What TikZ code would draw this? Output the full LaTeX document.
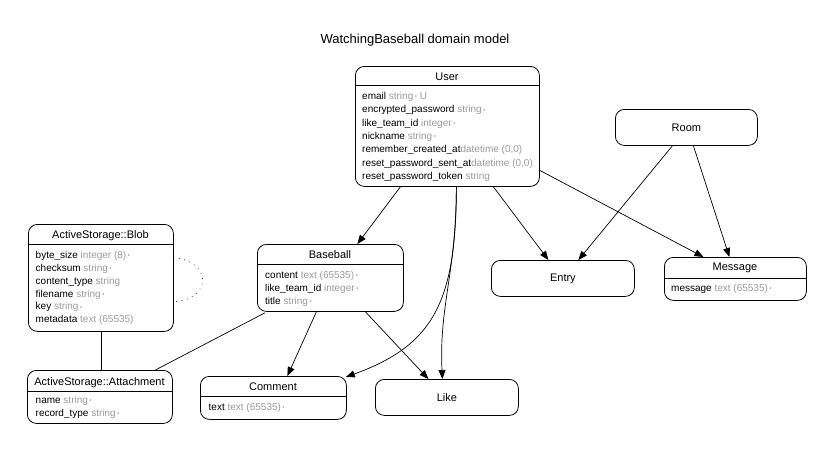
\documentclass[tikz,border=0pt]{standalone}
\usepackage{fontspec}
\setmainfont{Liberation Sans}
\usetikzlibrary{arrows.meta}
\definecolor{tygray}{HTML}{9A9A9A}
\newcommand\ty[1]{\textcolor{tygray}{#1}}
\newcommand\nnd{\,{\fontsize{6}{6}\selectfont\textcolor{tygray}{\raisebox{0.8pt}{•}}}}
\begin{document}
\begin{tikzpicture}[x=1pt,y=-1pt,
  ebox/.style={draw, rounded corners=9pt, line width=0.8pt, inner sep=0pt, anchor=north west, font=\fontsize{11}{13}\selectfont},
  hdr/.style={font=\fontsize{11}{13}\selectfont, inner sep=0pt, anchor=base},
  attr/.style={font=\fontsize{10}{12}\selectfont, anchor=base west, inner sep=0pt},
  sep/.style={line width=0.8pt},
  arr/.style={line width=0.7pt, -{Triangle[length=9pt,width=7pt]}},
  plain/.style={line width=0.7pt},
  loop/.style={line width=0.9pt, line cap=round, dash pattern=on 0pt off 5.5pt}]
\useasboundingbox (0,0) rectangle (837,455);

\node[font=\fontsize{13}{15}\selectfont, inner sep=0pt] (title) at (415,40) {WatchingBaseball domain model};

% User
\node[ebox, minimum width=184pt, minimum height=120pt] (user) at (355,66) {};
\draw[sep] ([yshift=-19pt]user.north west) -- ([yshift=-19pt]user.north east);
\node[hdr] (user-h) at (447,80) {User};
\node[attr] (user-a1) at (362,99.6) {email \ty{string\nnd{} U}};
\node[attr] (user-a2) at (362,112.9) {encrypted\_password \ty{string\nnd}};
\node[attr] (user-a3) at (362,126.3) {like\_team\_id \ty{integer\nnd}};
\node[attr] (user-a4) at (362,139.6) {nickname \ty{string\nnd}};
\node[attr] (user-a5) at (362,152.9) {remember\_created\_at\ty{datetime (0,0)}};
\node[attr] (user-a6) at (362,166.3) {reset\_password\_sent\_at\ty{datetime (0,0)}};
\node[attr] (user-a7) at (362,179.6) {reset\_password\_token \ty{string}};

% Room, Entry, Like
\node[ebox, minimum width=142pt, minimum height=36pt] (room) at (615,109) {};
\node[hdr, anchor=center] (room-h) at (room.center) {Room};
\node[ebox, minimum width=143pt, minimum height=36pt] (entry) at (491,260) {};
\node[hdr, anchor=center] (entry-h) at (entry.center) {Entry};
\node[ebox, minimum width=143pt, minimum height=36pt] (like) at (375,379) {};
\node[hdr, anchor=center] (like-h) at (like.center) {Like};

% Message
\node[ebox, minimum width=142pt, minimum height=43pt] (message) at (664,257) {};
\draw[sep] ([yshift=-21pt]message.north west) -- ([yshift=-21pt]message.north east);
\node[hdr] (message-h) at (735,270.7) {Message};
\node[attr] (message-a1) at (671,291.6) {message \ty{text (65535)\nnd}};

% Blob
\node[ebox, minimum width=145pt, minimum height=107pt] (blob) at (28,224) {};
\draw[sep] ([yshift=-20pt]blob.north west) -- ([yshift=-20pt]blob.north east);
\node[hdr] (blob-h) at (100.5,238) {ActiveStorage::Blob};
\node[attr] (blob-a1) at (35.5,258.6) {byte\_size \ty{integer (8)\nnd}};
\node[attr] (blob-a2) at (35.5,271.4) {checksum \ty{string\nnd}};
\node[attr] (blob-a3) at (35.5,284.2) {content\_type \ty{string}};
\node[attr] (blob-a4) at (35.5,297.0) {filename \ty{string\nnd}};
\node[attr] (blob-a5) at (35.5,309.8) {key \ty{string\nnd}};
\node[attr] (blob-a6) at (35.5,322.6) {metadata \ty{text (65535)}};

% Baseball
\node[ebox, minimum width=146pt, minimum height=67pt] (baseball) at (257,244) {};
\draw[sep] ([yshift=-20pt]baseball.north west) -- ([yshift=-20pt]baseball.north east);
\node[hdr] (baseball-h) at (330,258) {Baseball};
\node[attr] (baseball-a1) at (265,278.6) {content \ty{text (65535)\nnd}};
\node[attr] (baseball-a2) at (265,291.6) {like\_team\_id \ty{integer\nnd}};
\node[attr] (baseball-a3) at (265,304.6) {title \ty{string\nnd}};

% Attachment
\node[ebox, minimum width=145pt, minimum height=53pt] (attachment) at (27,370) {};
\draw[sep] ([yshift=-21pt]attachment.north west) -- ([yshift=-21pt]attachment.north east);
\node[hdr] (attachment-h) at (99.5,385) {ActiveStorage::Attachment};
\node[attr] (attachment-a1) at (35.5,403.6) {name \ty{string\nnd}};
\node[attr] (attachment-a2) at (35.5,416.3) {record\_type \ty{string\nnd}};

% Comment
\node[ebox, minimum width=146pt, minimum height=43pt] (comment) at (200,376) {};
\draw[sep] ([yshift=-20pt]comment.north west) -- ([yshift=-20pt]comment.north east);
\node[hdr] (comment-h) at (273,390) {Comment};
\node[attr] (comment-a1) at (208.5,410.6) {text \ty{text (65535)\nnd}};

% connectors
\draw[arr] ([xshift=-47pt]user.south) -- ([xshift=27pt]baseball.north);
\draw[arr] ([xshift=9pt]user.south) .. controls (456,300) and (435,345) .. ([xshift=-1pt,yshift=-1pt]comment.north east);
\draw[arr] ([xshift=9pt]user.south) .. controls (456,275) and (439,305) .. ([xshift=-4.5pt]like.north);
\draw[arr] ([xshift=46pt]user.south) -- ([xshift=-14.5pt]entry.north);
\draw[arr] ([yshift=-44pt]user.east) -- ([xshift=-32pt]message.north);
\draw[arr] ([xshift=-14pt]room.south) -- ([xshift=15.5pt]entry.north);
\draw[arr] ([xshift=7pt]room.south) -- ([xshift=-6pt]message.north);
\draw[arr] ([xshift=-14pt]baseball.south) -- ([xshift=14pt]comment.north);
\draw[arr] ([xshift=35pt]baseball.south) -- ([xshift=-18.5pt]like.north);
\draw[plain] (blob.south) -- (blob.south |- attachment.north);
\draw[plain] ([xshift=8pt,yshift=-1pt]baseball.south west) -- ([xshift=55.5pt]attachment.north);
\draw[loop] ([yshift=20.5pt]blob.east) .. controls (212,262) and (212,298) .. ([xshift=2pt,yshift=-23.5pt]blob.east);
\end{tikzpicture}
\end{document}
